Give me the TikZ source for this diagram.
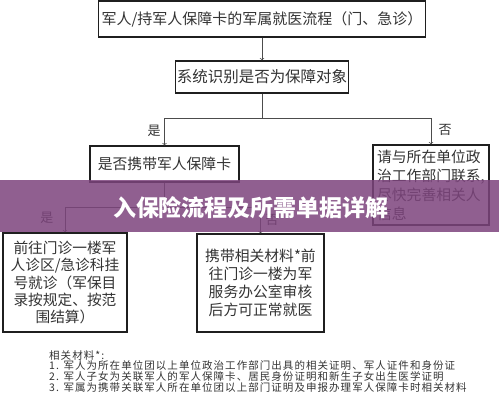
\documentclass[tikz,border=0pt]{standalone}
\usepackage{fontspec}
\setmainfont{Noto Sans CJK SC}
\newfontfamily\notefont{Noto Sans CJK SC}[LetterSpace=10]
\usetikzlibrary{arrows}
\definecolor{BoxClr}{rgb}{0.12,0.12,0.12}
\definecolor{LineClr}{rgb}{0.3,0.3,0.3}
\definecolor{TextClr}{rgb}{0.2,0.2,0.2}
\definecolor{BannerClr}{RGB}{125,68,125}

\begin{document}
\begin{tikzpicture}[x=1pt,y=-1pt,
  box/.style={draw=BoxClr,line width=1.3pt,text=TextClr,inner sep=0pt,align=center,
    font=\fontsize{14.8}{17.5}\selectfont},
  flow/.style={->,draw=LineClr,line width=0.7pt},
  lbl/.style={text=TextClr,inner sep=0pt,font=\fontsize{13}{13}\selectfont}]

\useasboundingbox[fill=white] (0,0) rectangle (499,414);

\node[box,minimum width=327,minimum height=36,font=\fontsize{15}{17}\selectfont] (title) at (262,19) {军人/持军人保障卡的军属就医流程（门、急诊）};
\node[box,minimum width=173,minimum height=32,font=\fontsize{15.5}{17}\selectfont] (sys) at (262,77) {系统识别是否为保障对象};
\node[box,minimum width=149,minimum height=36] (card) at (164.5,164) {是否携带军人保障卡};
\node[box,minimum width=116,minimum height=80,align=left,font=\fontsize{14.8}{19}\selectfont] (contact) at (431,185) {请与所在单位政\\治工作部门联系,\\尽快完善相关人\\信息};
\node[box,minimum width=124,minimum height=99,font=\fontsize{14.7}{17.2}\selectfont] (clinic) at (65,282.5) {前往门诊一楼军\\人诊区/急诊科挂\\号就诊（军保目\\录按规定、按范\\围结算）};
\node[box,minimum width=127,minimum height=98,font=\fontsize{14.8}{18}\selectfont] (material) at (260.5,283) {携带相关材料*前\\往门诊一楼为军\\服务办公室审核\\后方可正常就医};

% Split points of the two decisions.
\coordinate (fork1) at (262,118);
\coordinate (fork2) at (164.5,207);

\draw[flow] (title) -- (sys);
\draw[draw=LineClr,line width=0.7pt] (sys) -- (fork1);
\draw[flow] (fork1) -| (card);
\draw[flow] (fork1) -| (contact);
\draw[draw=LineClr,line width=0.7pt] (card) -- (fork2);
\draw[flow] (fork2) -| (clinic);
\draw[flow] (fork2) -| (material);

\node[lbl] (yes1) at (154,131) {是};
\node[lbl] (no1) at (445,130) {否};
\node[lbl] (yes2) at (47,218) {是};
\node[lbl] (no2) at (272,220) {否};

% Banner across the middle.
\fill[BannerClr,fill opacity=0.85] (0,180) rectangle (499,232);
\node[text=white,inner sep=0pt,font=\fontsize{23}{23}\selectfont\bfseries] (banner) at (251,208) {入保险流程及所需单据详解};

\node[anchor=north west,align=left,inner sep=0pt,text=TextClr,font=\notefont\fontsize{10.5}{10.7}\selectfont] (notes) at (49,350) {相关材料*:\\1. 军人为所在单位团以上单位政治工作部门出具的相关证明、军人证件和身份证\\2. 军人子女为关联军人的军人保障卡、居民身份证明和新生子女出生医学证明\\3. 军属为携带关联军人所在单位团以上部门证明及申报办理军人保障卡时相关材料};

\end{tikzpicture}
\end{document}
